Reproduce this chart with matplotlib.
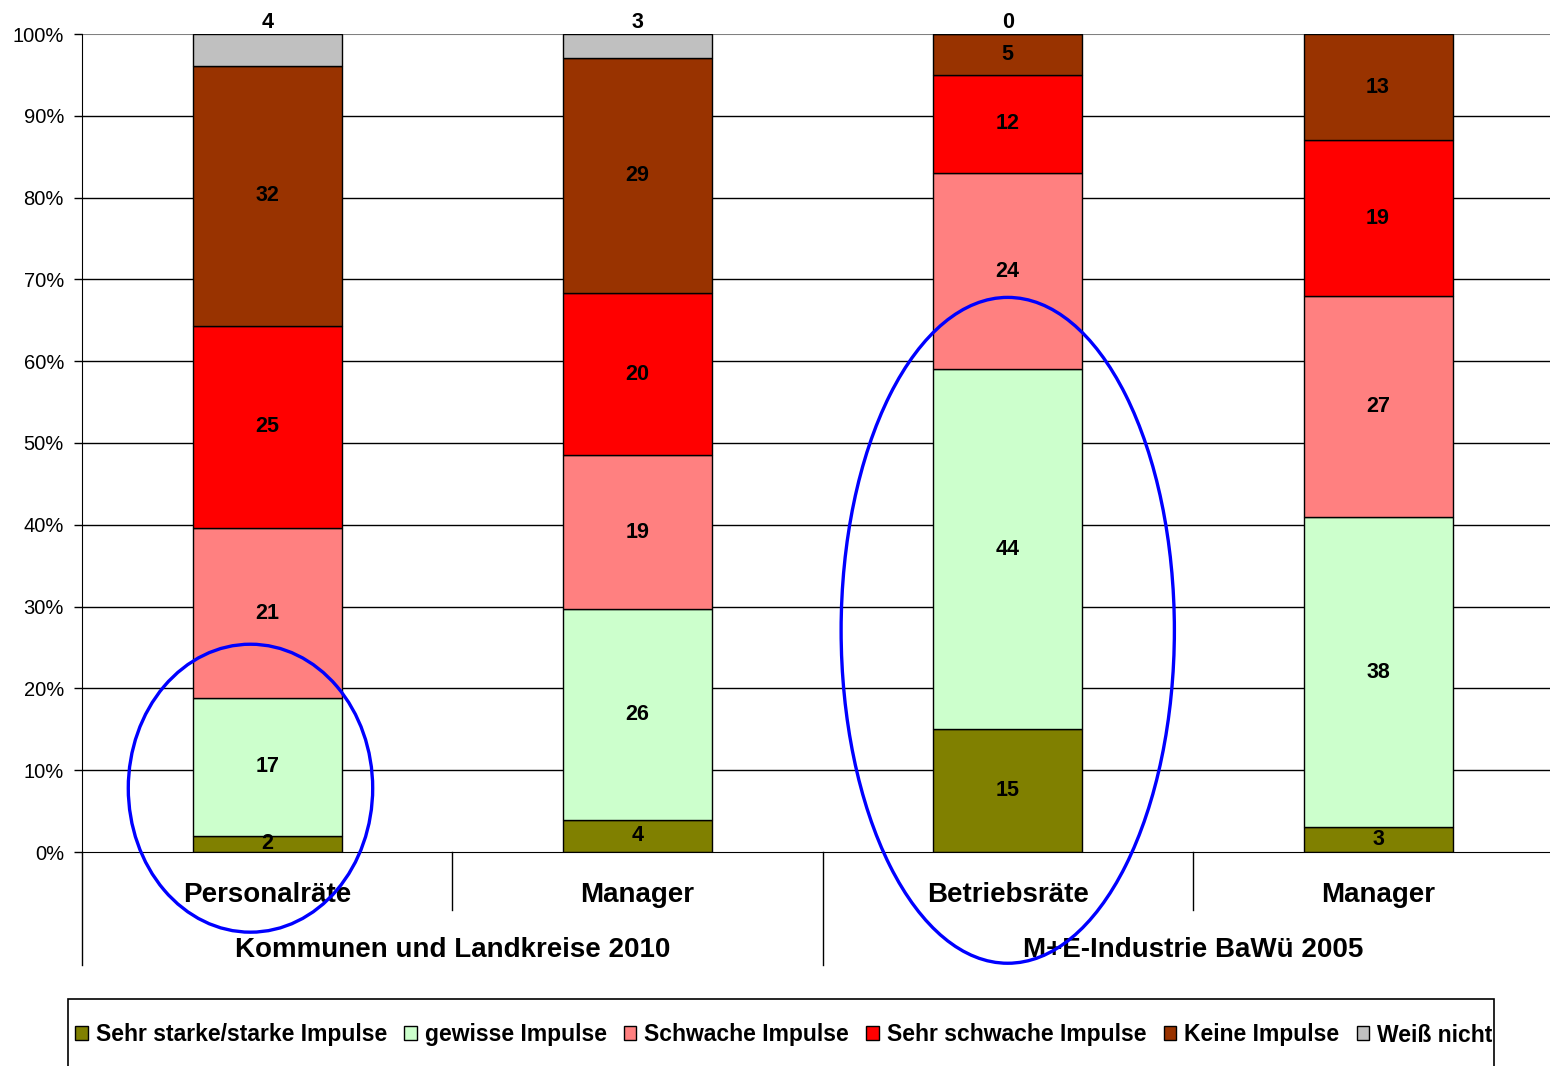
import matplotlib
matplotlib.use("Agg")
import matplotlib.pyplot as plt
from matplotlib.patches import Ellipse, Rectangle, Patch
from matplotlib.lines import Line2D
import numpy as np

plt.rcParams['font.family'] = ['Liberation Sans', 'DejaVu Sans']

# Survey answers (counts per respondent group)
groups = ["Kommunen und Landkreise 2010", "M+E-Industrie BaWü 2005"]
categories = ["Personalräte", "Manager", "Betriebsräte", "Manager"]
series_names = ["Sehr starke/starke Impulse", "gewisse Impulse", "Schwache Impulse",
                "Sehr schwache Impulse", "Keine Impulse", "Weiß nicht"]
sehr_stark = [2, 4, 15, 3]
gewisse = [17, 26, 44, 38]
schwach = [21, 19, 24, 27]
sehr_schwach = [25, 20, 12, 19]
keine = [32, 29, 5, 13]
weiss_nicht = [4, 3, 0, None]
colors = ["#808000", "#CCFFCC", "#FF8080", "#FF0000", "#993300", "#C0C0C0"]

series = [sehr_stark, gewisse, schwach, sehr_schwach, keine, weiss_nicht]

W, H = 1550, 1066
fig = plt.figure(figsize=(W / 100, H / 100), dpi=100)
ax_left, ax_right, ax_top, ax_bot = 82, 1550, 34, 852
ax = fig.add_axes([ax_left / W, 1 - ax_bot / H, (ax_right - ax_left) / W, (ax_bot - ax_top) / H])

cat_px = 370.3
ax.set_xlim(-0.5, -0.5 + (ax_right - ax_left) / cat_px)
ax.set_ylim(0, 100)

# Horizontal gridlines
for g in range(10, 100, 10):
    ax.axhline(g, color="black", lw=1.0, zorder=1)
ax.axhline(100, color="#808080", lw=1.5, zorder=1)

x = np.arange(len(categories))
bar_w = 149 / cat_px
bottoms = np.zeros(len(categories))
totals = np.array([sum(v for v in col if v is not None) for col in zip(*series)], dtype=float)

for si, (vals, col) in enumerate(zip(series, colors)):
    for i, v in enumerate(vals):
        if v is None:
            continue
        h = v / totals[i] * 100
        ax.bar(x[i], h, bar_w, bottom=bottoms[i], color=col, edgecolor="black",
               linewidth=1.0, zorder=2)
        if si < len(series) - 1:
            ax.text(x[i], bottoms[i] + h / 2, str(v), ha="center", va="center",
                    fontsize=15.5, fontweight="bold", zorder=3)
        else:
            ax.annotate(str(v), (x[i], 100), xytext=(0, 1), textcoords="offset points",
                        ha="center", va="bottom", fontsize=15.5, fontweight="bold",
                        annotation_clip=False)
        bottoms[i] += h

# Axes styling
for s in ["top", "right"]:
    ax.spines[s].set_visible(False)
ax.spines["left"].set_color("black")
ax.spines["bottom"].set_color("black")
ax.set_yticks(range(0, 101, 10))
ax.set_yticklabels([f"{t}%" for t in range(0, 101, 10)], fontsize=14.5)
ax.tick_params(axis="y", direction="out", length=6, width=1, pad=7)
ax.set_xticks([])

# Two-level category axis
trans = ax.get_xaxis_transform()
ax_h = ax_bot - ax_top
y_cat = -(895 - ax_bot) / ax_h
y_grp = -(950 - ax_bot) / ax_h
y_sep_short = -(910 - ax_bot) / ax_h
y_sep_long = -(965 - ax_bot) / ax_h
for i, c in enumerate(categories):
    ax.text(x[i], y_cat, c, transform=trans, ha="center", va="center",
            fontsize=20, fontweight="bold")
for gi, g in enumerate(groups):
    ax.text(0.5 + 2 * gi, y_grp, g, transform=trans, ha="center", va="center",
            fontsize=20, fontweight="bold")
for sx, sy in [(-0.5, y_sep_long), (0.5, y_sep_short), (1.5, y_sep_long), (2.5, y_sep_short)]:
    ax.add_line(Line2D([sx, sx], [0, sy], transform=trans, color="black", lw=1.0,
                       clip_on=False))

# Highlight rings
ax.add_patch(Ellipse((-0.045, 7.8), 0.66, 35.2, fill=False, edgecolor="#0000FF",
                     lw=2.4, clip_on=False, zorder=5))
ax.add_patch(Ellipse((2.0, 27.1), 0.90, 81.4, fill=False, edgecolor="#0000FF",
                     lw=2.4, clip_on=False, zorder=5))

# Legend with frame
fig.add_artist(Rectangle((68 / W, 1 - 1070 / H), (1494 - 68) / W, (1070 - 999) / H,
                         transform=fig.transFigure, fill=False, edgecolor="black", lw=1.2))
handles = [Patch(facecolor=c, edgecolor="black", linewidth=1.0) for c in colors]
fig.legend(handles, series_names, loc="center left", bbox_to_anchor=(75 / W, 1 - 1035 / H),
           ncol=6, frameon=False, prop={"size": 16.5, "weight": "bold"},
           handlelength=0.55, handleheight=0.55, handletextpad=0.35,
           columnspacing=0.75, borderpad=0, borderaxespad=0)

fig.savefig("out.png", dpi=100)
